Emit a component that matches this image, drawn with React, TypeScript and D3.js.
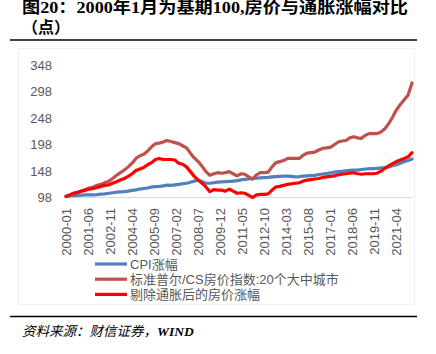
import React from 'react';
import * as d3 from 'd3';

// quarterly readings (every 3rd month from 2000-01 to 2022-04), index 2000-01 = 100
const CPI = [
  100, 101, 101.5, 102, 102.5, 103, 103, 103, 103.5, 104.5, 105, 106, 107, 108, 108.5, 109,
  110, 111.5, 112.5, 114, 115, 116, 118, 118.5, 119, 120, 121.5, 121, 122, 123, 124, 125,
  127, 129, 131, 128, 125, 125, 126, 127, 127.5, 128, 128.5, 129, 130, 131.5, 132.5, 133,
  134, 134.5, 135, 135.5, 136, 137, 137.5, 138, 138.5, 138.5, 138, 137, 137.5, 138.5, 139, 139.5,
  140, 141.5, 142.5, 143.5, 144.5, 146, 147, 147.5, 148.5, 149.5, 150, 150, 151, 152, 152.5, 152.5,
  153, 154, 154.5, 156, 158, 160, 163, 166, 168, 171,
];
const CS20 = [
  100, 103, 106, 108, 110, 113, 116, 118, 121, 123, 126, 129, 134, 140, 145, 150,
  156, 163, 172, 177, 180, 186, 194, 200, 201, 203, 206, 204, 202, 200, 196, 192,
  182, 173, 166, 157, 147, 140, 143, 145, 144, 145, 147, 143, 139, 143, 142, 137,
  133, 141, 145, 145, 146, 156, 164, 166, 168, 172, 172, 172, 172, 178, 182, 183,
  184, 188, 191, 192, 193, 198, 203, 205, 206, 211, 213, 211, 210, 216, 219, 219,
  219, 222, 228, 238, 250, 264, 274, 283, 292, 315,
];
const REAL = [
  100, 103, 106, 108, 110, 112, 114, 115, 117, 119, 121, 122, 125, 128, 131, 134,
  138, 143, 149, 152, 155, 160, 164, 170, 172, 170, 170, 170, 169, 163, 161, 156,
  147, 138, 131, 125, 118, 109, 113, 112, 112, 110, 114, 110, 106, 107, 106, 102,
  98, 103, 104, 104, 105, 112, 118, 119, 121, 123, 124, 125, 126, 129, 131, 132,
  133, 134, 136, 137, 138, 139, 141, 142, 143, 144, 145, 143, 142, 143, 143, 143,
  144, 148, 153, 158, 162, 166, 169, 172, 175, 183,
];
const Y_TICKS = [98, 148, 198, 248, 298, 348];
const X_TICKS = ['2000-01', '2001-06', '2002-11', '2004-04', '2005-09', '2007-02', '2008-07', '2009-12',
  '2011-05', '2012-10', '2014-03', '2015-08', '2017-01', '2018-06', '2019-11', '2021-04'];
const SERIES = [
  { name: 'CPI涨幅', values: CPI, color: '#4f81bd' },
  { name: '标准普尔/CS房价指数:20个大中城市', values: CS20, color: '#c0504d' },
  { name: '剔除通胀后的房价涨幅', values: REAL, color: '#ff0000' },
];

const STEP = 3; // months between readings
const monthIndex = (label: string) => {
  const [y, m] = label.split('-').map(Number);
  return (y - 2000) * 12 + (m - 1);
};

const font = "'Liberation Sans', Arial, 'Noto Sans CJK SC', sans-serif";

export default function App() {
  const n = (CPI.length - 1) * STEP;
  const x = d3.scaleLinear().domain([0, n]).range([66, 412]);
  const y = d3.scaleLinear().domain([98, 348]).range([197.5, 65.5]);
  const line = d3.line<number>().x((_, i) => x(i * STEP)).y(d => y(d));

  return (
    <svg width={436} height={354} style={{ position: 'absolute', left: 0, top: 0, background: '#fff' }}>
      <text x={22} y={13} fontSize={16} fontWeight="bold" fill="#000" textLength={386} lengthAdjust="spacingAndGlyphs"
        fontFamily="'Liberation Serif', 'Noto Sans CJK SC', serif">图20：2000年1月为基期100,房价与通胀涨幅对比</text>
      <text x={22} y={33} fontSize={16} fontWeight="bold" fill="#000"
        fontFamily="'Liberation Serif', 'Noto Sans CJK SC', serif">（点）</text>
      <line x1={10} x2={417} y1={40} y2={40} stroke="#000" strokeWidth={1.5} />

      <rect x={18.5} y={48.5} width={396} height={256} fill="none" stroke="#f0f0f0" />

      {Y_TICKS.map(t => (
        <text key={t} x={52} y={y(t)} dy="0.35em" textAnchor="end" fontSize={13} fill="#595959" fontFamily={font}>{t}</text>
      ))}
      <line x1={x(0) - 1} x2={412} y1={y(98)} y2={y(98)} stroke="#d9d9d9" strokeWidth={1} />
      {X_TICKS.map(t => (
        <text key={t} transform={`translate(${x(monthIndex(t))},208) rotate(-90)`} dy="0.35em" textAnchor="end"
          fontSize={13} fill="#595959" fontFamily={font}>{t}</text>
      ))}

      {SERIES.map(s => (
        <path key={s.name} d={line(s.values) ?? ''} fill="none" stroke={s.color} strokeWidth={3.2}
          strokeLinejoin="round" strokeLinecap="round" />
      ))}

      {SERIES.map((s, i) => (
        <g key={s.name} transform={`translate(95,${264 + i * 15.2})`}>
          <line x1={0} x2={32} y1={0} y2={0} stroke={s.color} strokeWidth={3.2} />
          <text x={35} y={0} dy="0.35em" fontSize={13} fill="#595959" fontFamily={font}>{s.name}</text>
        </g>
      ))}

      <line x1={10} x2={417} y1={316.5} y2={316.5} stroke="#000" strokeWidth={1.5} />
      <text x={22} y={336} fontSize={13.5} fontStyle="italic" fill="#000"
        fontFamily="'Liberation Serif', 'Noto Sans CJK SC', serif">资料来源：财信证券，<tspan fontWeight="bold">WIND</tspan></text>
    </svg>
  );
}
